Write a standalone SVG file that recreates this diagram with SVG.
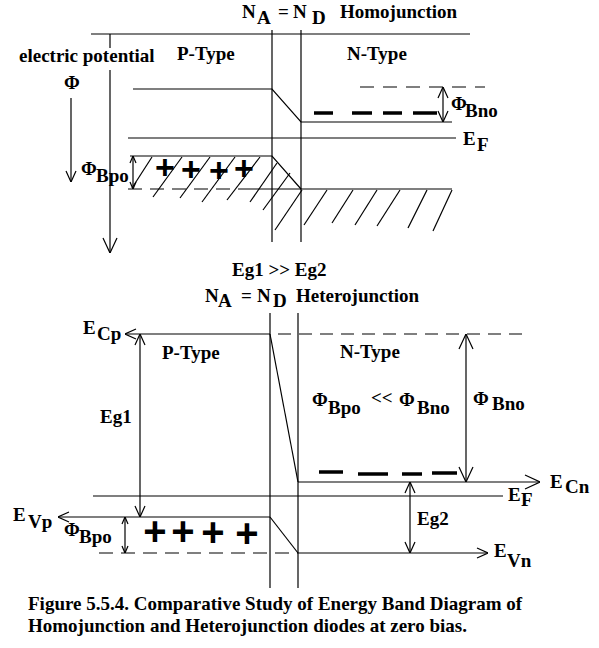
<svg xmlns="http://www.w3.org/2000/svg" width="599" height="648" viewBox="0 0 599 648">
<defs>
<style>
.ln{stroke:#000;stroke-width:1.2;fill:none}
.dsh{stroke:#000;stroke-width:1.2;fill:none;stroke-dasharray:14 8}
.thk{stroke:#000;stroke-width:3.5;fill:none}
.t{font-family:"Liberation Serif","Times New Roman",serif;font-weight:bold;font-size:19px;fill:#000}
.pl{font-family:"Liberation Sans",Arial,sans-serif;font-weight:bold;fill:#000;text-anchor:middle}
</style>
<marker id="aL" viewBox="0 0 16 16" markerWidth="16" markerHeight="16" refX="16" refY="8" orient="auto-start-reverse" markerUnits="userSpaceOnUse">
<path d="M1,1 L16,8 L1,15" fill="none" stroke="#000" stroke-width="1.2"/>
</marker>
<marker id="aM" viewBox="0 0 12 12" markerWidth="12" markerHeight="12" refX="12" refY="6" orient="auto-start-reverse" markerUnits="userSpaceOnUse">
<path d="M1,1 L12,6 L1,11" fill="none" stroke="#000" stroke-width="1.2"/>
</marker>
<marker id="aS" viewBox="0 0 8 8" markerWidth="8" markerHeight="8" refX="8" refY="4" orient="auto-start-reverse" markerUnits="userSpaceOnUse">
<path d="M1,1 L8,4 L1,7" fill="none" stroke="#000" stroke-width="1.2"/>
</marker>
</defs>
<rect width="599" height="648" fill="#fff"/>

<!-- ===== Homojunction ===== -->
<g id="homo-title">
<text class="t" x="242" y="18">N</text>
<text class="t" x="257" y="24">A</text>
<text class="t" x="278" y="18">=</text>
<text class="t" x="293" y="18">N</text>
<text class="t" x="312" y="24">D</text>
<text class="t" x="340" y="18">Homojunction</text>
</g>

<g id="homo-frame">
<line class="ln" x1="91" y1="34" x2="470" y2="34"/>
<line class="ln" x1="272" y1="30" x2="272" y2="242"/>
<line class="ln" x1="301" y1="30" x2="301" y2="242"/>
</g>

<g id="homo-axis">
<line class="ln" x1="110" y1="34" x2="110" y2="48"/>
<text class="t" x="19" y="62">electric potential</text>
<text class="t" x="64" y="89">Φ</text>
</g>

<g id="homo-labels">
<text class="t" x="177" y="60">P-Type</text>
<text class="t" x="347" y="60">N-Type</text>
<text class="t" x="463" y="145">E</text>
<text class="t" x="477" y="151">F</text>
<text class="t" x="451" y="110">Φ</text>
<text class="t" x="465" y="117">Bno</text>
<text class="t" x="81" y="175">Φ</text>
<text class="t" x="96" y="182">Bpo</text>
</g>

<g id="homo-bands">
<polyline class="ln" points="133,89 272,89 301,122 452,122"/>
<line class="ln" x1="128" y1="138" x2="456" y2="138"/>
<polyline class="ln" points="130,156 272,156 301,189"/>
<line class="dsh" x1="128" y1="189" x2="245" y2="189"/>
<line class="ln" x1="245" y1="189" x2="452" y2="189"/>
<line class="ln" stroke-dasharray="14 9" x1="360" y1="87" x2="485" y2="87"/>
<g class="thk">
<line x1="314" y1="113" x2="333" y2="113"/>
<line x1="352" y1="113" x2="372" y2="113"/>
<line x1="383" y1="113" x2="402" y2="113"/>
<line x1="413" y1="113" x2="437" y2="113"/>
</g>
</g>

<g id="homo-hatch" class="ln">
<line x1="132" y1="188" x2="152" y2="157"/>
<line x1="153" y1="197" x2="182" y2="157"/>
<line x1="180" y1="198" x2="210" y2="157"/>
<line x1="202" y1="202" x2="235" y2="157"/>
<line x1="227" y1="200" x2="260" y2="157"/>
<line x1="250" y1="202" x2="277" y2="163"/>
<line x1="263" y1="210" x2="290" y2="173"/>
<line x1="275" y1="230" x2="302" y2="190"/>
<line x1="304" y1="225" x2="327" y2="190"/>
<line x1="332" y1="223" x2="353" y2="190"/>
<line x1="355" y1="225" x2="377" y2="190"/>
<line x1="377" y1="226" x2="400" y2="190"/>
<line x1="408" y1="228" x2="427" y2="190"/>
<line x1="433" y1="231" x2="452" y2="190"/>
</g>

<g id="homo-plus">
<text class="pl" font-size="34" x="165" y="179">+</text>
<text class="pl" font-size="34" x="191" y="181">+</text>
<text class="pl" font-size="34" x="219" y="182">+</text>
<text class="pl" font-size="34" x="244" y="180">+</text>
</g>

<g id="homo-arrows">
<line class="ln" x1="110" y1="70" x2="110" y2="253" marker-end="url(#aL)"/>
<line class="ln" x1="71" y1="98" x2="71" y2="182" marker-end="url(#aM)"/>
<line class="ln" x1="133" y1="156" x2="133" y2="189" marker-start="url(#aS)" marker-end="url(#aS)"/>
<line class="ln" x1="443" y1="87" x2="443" y2="122" marker-start="url(#aM)" marker-end="url(#aM)"/>
</g>

<!-- ===== Heterojunction ===== -->
<g id="hetero-title">
<text class="t" x="232" y="276">Eg1 &gt;&gt; Eg2</text>
<text class="t" x="205" y="302">N</text>
<text class="t" x="218" y="307">A</text>
<text class="t" x="241" y="302">=</text>
<text class="t" x="257" y="302">N</text>
<text class="t" x="273" y="307">D</text>
<text class="t" x="296" y="302">Heterojunction</text>
</g>

<g id="hetero-frame">
<line class="ln" x1="270" y1="313" x2="270" y2="588"/>
<line class="ln" x1="298" y1="313" x2="298" y2="588"/>
</g>

<g id="hetero-bands">
<polyline class="ln" points="270,334 298,482"/>
<line class="ln" stroke-dasharray="13 8" x1="278" y1="334" x2="525" y2="334"/>
<line class="ln" x1="93" y1="496" x2="503" y2="496"/>
<polyline class="ln" points="270,517 298,553"/>
<line class="dsh" x1="99" y1="553" x2="298" y2="553"/>
<g class="thk">
<line x1="319" y1="472" x2="343" y2="472"/>
<line x1="358" y1="474" x2="388" y2="474"/>
<line x1="402" y1="474" x2="422" y2="474"/>
<line x1="432" y1="473" x2="457" y2="473"/>
</g>
</g>

<g id="hetero-arrows">
<line class="ln" x1="270" y1="334" x2="125" y2="334" marker-end="url(#aM)"/>
<line class="ln" x1="140" y1="334" x2="140" y2="517" marker-start="url(#aM)" marker-end="url(#aM)"/>
<line class="ln" x1="270" y1="517" x2="58" y2="517" marker-end="url(#aM)"/>
<line class="ln" x1="125" y1="517" x2="125" y2="553" marker-start="url(#aS)" marker-end="url(#aS)"/>
<line class="ln" x1="466" y1="334" x2="466" y2="482" marker-start="url(#aL)" marker-end="url(#aL)"/>
<line class="ln" x1="298" y1="482" x2="540" y2="482" marker-end="url(#aL)"/>
<line class="ln" x1="410" y1="482" x2="410" y2="553" marker-start="url(#aM)" marker-end="url(#aM)"/>
<line class="ln" x1="298" y1="553" x2="488" y2="553" marker-end="url(#aM)"/>
</g>

<g id="hetero-labels">
<text class="t" x="83" y="334">E</text>
<text class="t" x="97" y="340">Cp</text>
<text class="t" x="162" y="359">P-Type</text>
<text class="t" x="100" y="423">Eg1</text>
<text class="t" x="13" y="521">E</text>
<text class="t" x="28" y="528">Vp</text>
<text class="t" x="64" y="536">Φ</text>
<text class="t" x="79" y="543">Bpo</text>
<text class="t" x="340" y="358">N-Type</text>
<text class="t" x="312" y="406">Φ</text>
<text class="t" x="328" y="414">Bpo</text>
<text class="t" x="371" y="404">&lt;&lt;</text>
<text class="t" x="399" y="406">Φ</text>
<text class="t" x="417" y="414">Bno</text>
<text class="t" x="473" y="405">Φ</text>
<text class="t" x="492" y="410">Bno</text>
<text class="t" x="550" y="488">E</text>
<text class="t" x="565" y="493">Cn</text>
<text class="t" x="508" y="501">E</text>
<text class="t" x="521" y="506">F</text>
<text class="t" x="417" y="525">Eg2</text>
<text class="t" x="494" y="557">E</text>
<text class="t" x="507" y="567">Vn</text>
</g>

<g id="hetero-plus">
<text class="pl" font-size="40" x="155" y="545">+</text>
<text class="pl" font-size="40" x="183" y="545">+</text>
<text class="pl" font-size="40" x="213" y="546">+</text>
<text class="pl" font-size="40" x="247" y="547">+</text>
</g>

<g id="caption">
<text class="t" x="28" y="610">Figure 5.5.4. Comparative Study of Energy Band Diagram of</text>
<text class="t" x="28" y="632">Homojunction and Heterojunction diodes at zero bias.</text>
</g>
</svg>
